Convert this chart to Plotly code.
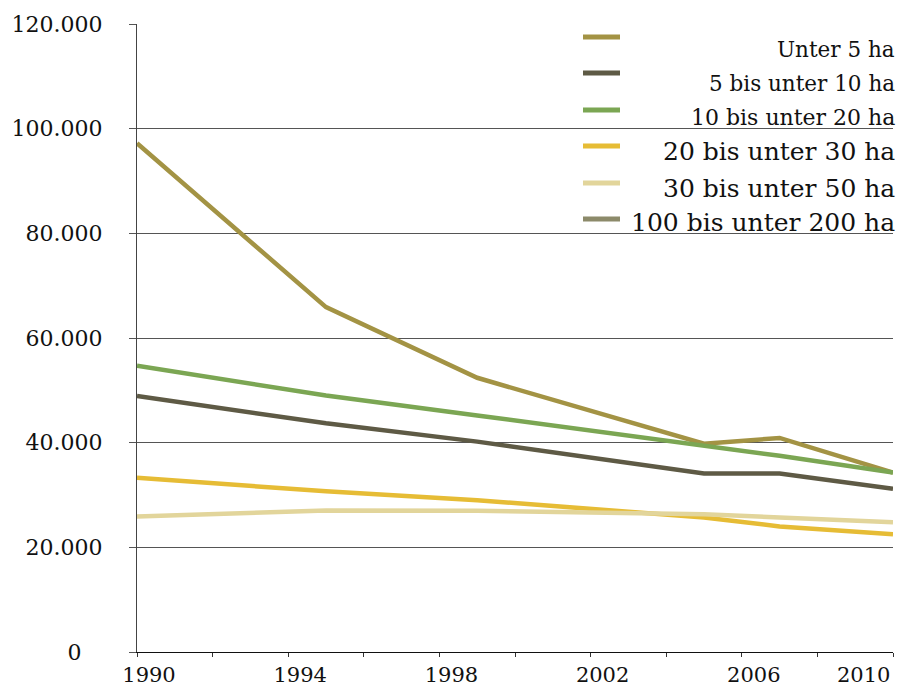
import plotly.graph_objects as go

# Betriebe nach Größenklassen der landwirtschaftlich genutzten Fläche
years = [1990, 1995, 1999, 2005, 2007, 2010]

series_names = [
    "Unter 5 ha",
    "5 bis unter 10 ha",
    "10 bis unter 20 ha",
    "20 bis unter 30 ha",
    "30 bis unter 50 ha",
    "100 bis unter 200 ha",
]
unter_5 = [97200, 65900, 52400, 39800, 40900, 34300]
von_5_bis_10 = [48900, 43700, 40200, 34100, 34100, 31200]
von_10_bis_20 = [54700, 49000, 45200, 39300, 37500, 34300]
von_20_bis_30 = [33300, 30700, 29000, 25700, 24000, 22500]
von_30_bis_50 = [25900, 27050, 27000, 26300, 25700, 24800]
von_100_bis_200 = [None, None, None, None, None, None]

values = [unter_5, von_5_bis_10, von_10_bis_20, von_20_bis_30, von_30_bis_50, von_100_bis_200]
colors = ["#A39344", "#5E5A45", "#7BA653", "#E6BC35", "#E2D59B", "#8C8A6A"]
legend_sizes = [21.5, 21.5, 22, 25, 25, 25]

y_ticks = [0, 20000, 40000, 60000, 80000, 100000, 120000]
y_ticktext = ["0\u00a0\u00a0\u00a0", "20.000", "40.000", "60.000", "80.000", "100.000", "120.000"]
x_ticks = list(range(1990, 2011, 2))
x_ticktext = ["1990", "", "1994", "", "1998", "", "2002", "", "2006", "", ""]
# the last year label sits flush with the right end of the axis
x_last_label = "2010"

FONT = "DejaVu Serif"

fig = go.Figure()
for name, vals, col in zip(series_names, values, colors):
    fig.add_trace(go.Scatter(
        x=years, y=vals, name=name, mode="lines",
        line=dict(color=col, width=4.5),
        showlegend=False,
    ))

fig.add_annotation(
    x=x_ticks[-1], xref="x", y=0, yref="paper",
    xanchor="right", yanchor="top", yshift=-9, xshift=-1,
    text=x_last_label, showarrow=False,
    font=dict(family=FONT, size=21, color="#111111"),
)

# Legende: Linienmuster links, Text rechtsbündig
legend_y = [37, 73, 110, 146, 183, 219]
text_y = [50, 83, 118, 152, 188, 222]
for name, col, fs, ly, ty in zip(series_names, colors, legend_sizes, legend_y, text_y):
    fig.add_shape(
        type="line", xref="paper", yref="paper",
        x0=(583 - 137) / 756, x1=(620 - 137) / 756,
        y0=(652 - ly) / 628, y1=(652 - ly) / 628,
        line=dict(color=col, width=5),
    )
    fig.add_annotation(
        xref="paper", yref="paper",
        x=(897 - 137) / 756, y=(652 - ty) / 628,
        xanchor="right", yanchor="middle",
        text=name, showarrow=False,
        font=dict(family=FONT, size=fs, color="#111111"),
    )

fig.update_layout(
    width=898, height=687,
    margin=dict(l=137, r=5, t=24, b=35),
    paper_bgcolor="white", plot_bgcolor="white",
    font=dict(family=FONT, size=22, color="#111111"),
    showlegend=False,
)
fig.update_xaxes(
    range=[1990, 2010],
    tickvals=x_ticks, ticktext=x_ticktext,
    ticks="outside", ticklen=4, tickcolor="#333333", tickwidth=1,
    ticklabelshift=12, ticklabelstandoff=0,
    ticklabeloverflow="allow",
    showline=True, linecolor="#111111", linewidth=1,
    showgrid=False, zeroline=False, automargin=False,
    tickfont=dict(family=FONT, size=21),
)
fig.update_yaxes(
    range=[0, 120000],
    tickvals=y_ticks, ticktext=y_ticktext,
    ticks="outside", ticklen=7, tickcolor="#555555", tickwidth=1,
    ticklabelstandoff=22, ticklabeloverflow="allow",
    showline=True, linecolor="#444444", linewidth=1,
    showgrid=True, gridcolor="#555555", gridwidth=1,
    zeroline=False, automargin=False,
    tickfont=dict(family=FONT, size=22),
)

fig.write_html("out.html")
